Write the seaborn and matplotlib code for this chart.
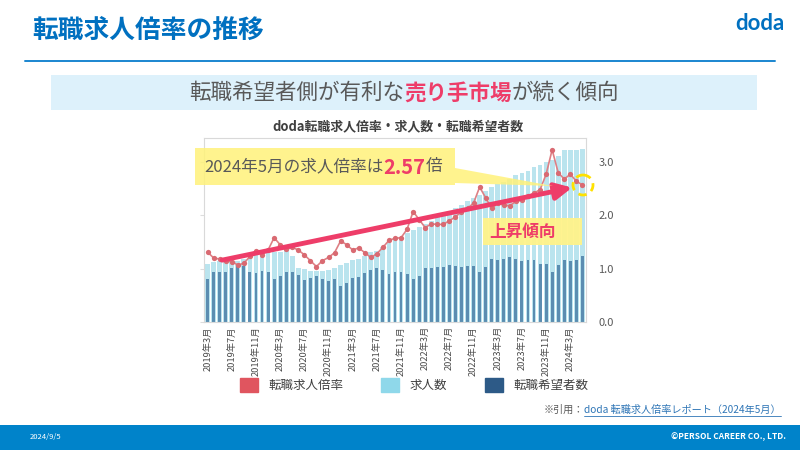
import matplotlib
matplotlib.use("Agg")
import matplotlib.pyplot as plt
import seaborn as sns
import pandas as pd
from matplotlib.patches import Rectangle, Circle, Polygon, Patch

# doda 転職求人倍率 2019年3月〜2024年5月 (right-axis units)
ratio = [1.31, 1.20, 1.18, 1.15, 1.13, 1.07, 1.10, 1.23, 1.34, 1.26, 1.35, 1.58, 1.45,
         1.36, 1.40, 1.35, 1.26, 1.15, 1.04, 1.15, 1.21, 1.30, 1.52, 1.45, 1.35, 1.39,
         1.30, 1.21, 1.28, 1.40, 1.53, 1.57, 1.58, 1.74, 2.07, 1.92, 1.77, 1.84, 1.83,
         1.83, 1.90, 1.97, 2.07, 2.13, 2.23, 2.53, 2.33, 2.13, 2.23, 2.19, 2.18, 2.26,
         2.28, 2.36, 2.42, 2.48, 2.77, 3.23, 2.80, 2.68, 2.77, 2.64, 2.57]
jobs = [1.09, 1.13, 1.15, 1.15, 1.13, 1.14, 1.19, 1.25, 1.27, 1.27, 1.30, 1.31, 1.31,
        1.35, 1.23, 1.02, 1.00, 0.95, 0.95, 0.96, 0.97, 1.01, 1.06, 1.10, 1.16, 1.19,
        1.24, 1.31, 1.34, 1.40, 1.48, 1.53, 1.59, 1.67, 1.73, 1.78, 1.84, 1.89, 1.97,
        2.02, 2.08, 2.14, 2.20, 2.26, 2.32, 2.38, 2.45, 2.53, 2.59, 2.63, 2.68, 2.76,
        2.80, 2.84, 2.90, 2.95, 3.00, 3.04, 3.12, 3.22, 3.23, 3.22, 3.24]
seekers = [0.80, 0.93, 0.93, 0.94, 1.01, 1.05, 1.05, 0.94, 0.92, 0.96, 0.93, 0.80, 0.86,
           0.93, 0.93, 0.88, 0.79, 0.83, 0.87, 0.80, 0.77, 0.81, 0.68, 0.74, 0.82, 0.84,
           0.91, 0.97, 1.01, 0.97, 0.90, 0.94, 0.94, 0.90, 0.80, 0.87, 1.01, 1.01, 1.03,
           1.04, 1.07, 1.05, 1.04, 1.05, 1.05, 0.93, 1.04, 1.18, 1.16, 1.18, 1.21, 1.19,
           1.14, 1.17, 1.17, 1.09, 1.08, 0.93, 1.07, 1.17, 1.14, 1.17, 1.23]
tick_labels = ["2019年3月", "2019年7月", "2019年11月", "2020年3月", "2020年7月", "2020年11月",
               "2021年3月", "2021年7月", "2021年11月", "2022年3月", "2022年7月", "2022年11月",
               "2023年3月", "2023年7月", "2023年11月", "2024年3月"]
legend_labels = ["転職求人倍率", "求人数", "転職希望者数"]

BLUE = "#0070C0"
PINK = "#EE3D69"
GRAY = "#595959"

sns.set_style("white")
plt.rcParams["font.family"] = ["Noto Sans CJK JP", "DejaVu Sans"]

df = pd.DataFrame({"month": range(len(ratio)), "ratio": ratio, "jobs": jobs, "seekers": seekers})

fig = plt.figure(figsize=(8, 4.5), dpi=100)
ax = fig.add_axes([204 / 800, 1 - 322 / 450, 382 / 800, 184 / 450])

sns.barplot(data=df, x="month", y="jobs", color="#BAE4EE", width=0.8, saturation=1,
            linewidth=0, ax=ax)
sns.barplot(data=df, x="month", y="seekers", color="#5B8DB1", width=0.48, saturation=1,
            linewidth=0, ax=ax)
sns.lineplot(data=df, x="month", y="ratio", color="#DE8085", linewidth=1.2, marker="o",
             markersize=3.8, markeredgewidth=0, markerfacecolor="#D96A72", ax=ax)

ax.set_xlim(-0.6, len(ratio) - 0.4)
ax.set_ylim(0, 3.45)
ax.set_xlabel("")
ax.set_ylabel("")
ax.set_xticks(range(0, len(ratio), 4))
ax.set_xticklabels(tick_labels, rotation=90, fontsize=6.7, color="#4A4A4A")
ax.yaxis.tick_right()
ax.set_yticks([0, 1, 2, 3])
ax.set_yticklabels(["0.0", "1.0", "2.0", "3.0"])
ax.tick_params(axis="y", left=True, right=False, labelleft=False, labelright=True, length=3,
               color="#DDDDDD", labelsize=8, labelcolor=GRAY, pad=6)
ax.tick_params(axis="x", length=0, pad=3)
for s in ax.spines.values():
    s.set_color("#D9D9D9")
    s.set_linewidth(0.8)

# rising trend arrow
ax.annotate("", xy=(60.3, 2.52), xytext=(2.4, 1.16),
            arrowprops=dict(arrowstyle="-|>,head_length=1.0,head_width=0.5", color=PINK,
                            lw=3.5, shrinkA=0, shrinkB=0), zorder=6)

handles = [Patch(color="#E0555F"), Patch(color="#8FD8EA"), Patch(color="#2D5A87")]
fig.legend(handles, legend_labels, loc="center", bbox_to_anchor=(0.518, 0.144), ncol=3,
           frameon=False, fontsize=9, handlelength=1.4, handleheight=1.4,
           columnspacing=3.0, handletextpad=0.9, labelcolor="#404040")

# slide decorations in pixel coordinates
deco = fig.add_axes([0, 0, 1, 1], zorder=10)
deco.set_xlim(0, 800)
deco.set_ylim(450, 0)
deco.axis("off")
deco.patch.set_alpha(0)
renderer = fig.canvas.get_renderer()


def chain(parts, x, y, center=False):
    texts = [deco.text(0, y, t, va="center", ha="left", **kw) for t, kw in parts]
    widths = [t.get_window_extent(renderer).width for t in texts]
    if center:
        x = x - sum(widths) / 2
    for t, w in zip(texts, widths):
        t.set_x(x)
        x += w
    return texts


deco.text(32, 30, "転職求人倍率の推移", fontsize=18.5, fontweight="bold", color=BLUE, va="center")
deco.text(784, 23, "doda", fontsize=16, fontweight="bold", color=BLUE, ha="right", va="center",
          family=["Lato", "DejaVu Sans"])
deco.plot([25, 775], [61, 61], color="#1A86D0", lw=1.4)

deco.add_patch(Rectangle((51, 75), 706, 35, fc="#DDF1FB", ec="none"))
chain([("転職希望者側が有利な", dict(fontsize=15.5, color=GRAY)),
       ("売り手市場", dict(fontsize=15.5, color=PINK, fontweight="bold")),
       ("が続く傾向", dict(fontsize=15.5, color=GRAY))], 404, 93, center=True)

deco.text(398, 126, "doda転職求人倍率・求人数・転職希望者数", fontsize=9.3, fontweight="bold",
          color="#404040", ha="center", va="center")

# callout
deco.add_patch(Rectangle((195, 148), 260, 37, fc="#FFF27A", ec="none", alpha=0.85))
deco.add_patch(Polygon([(455, 168), (455, 183), (553, 186)], fc="#FFF27A", ec="none", alpha=0.85))
chain([("2024年5月の求人倍率は", dict(fontsize=12, color=GRAY)),
       ("2.57", dict(fontsize=14.5, color=PINK, fontweight="bold")),
       ("倍", dict(fontsize=12, color=GRAY))], 204, 167)
deco.add_patch(Circle((583, 185), 10, fill=False, ec="#FFE100", lw=2, ls=(0, (3, 2))))

deco.add_patch(Rectangle((483, 218), 99, 27, fc="#FFF38A", ec="none", alpha=0.95))
deco.text(489, 231.5, "上昇傾向", fontsize=12, fontweight="bold", color=PINK, va="center")

# citation
cite = chain([("※引用：", dict(fontsize=7.3, color=GRAY)),
              ("doda 転職求人倍率レポート（2024年5月）", dict(fontsize=7.3, color="#2E75B6"))],
             0, 410)
total = sum(t.get_window_extent(renderer).width for t in cite)
shift = 781 - total
for t in cite:
    t.set_x(t.get_position()[0] + shift)
link_x0 = cite[1].get_position()[0]
deco.plot([link_x0, 781], [416, 416], color="#2E75B6", lw=0.6)

# footer
deco.add_patch(Rectangle((0, 425), 800, 25, fc="#0083CA", ec="none"))
deco.text(30, 437, "2024/9/5", fontsize=5.5, color="white", va="center")
deco.text(786, 437, "©PERSOL CAREER CO., LTD.", fontsize=6, fontweight="bold", color="white",
          ha="right", va="center")

fig.savefig("out.png", dpi=100)
